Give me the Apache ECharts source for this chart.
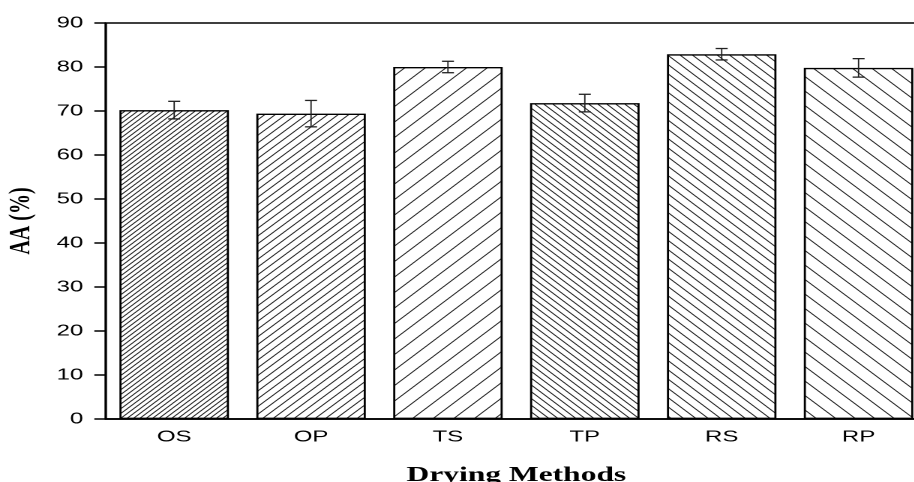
<!DOCTYPE html>
<html>
<head>
<meta charset="utf-8">
<script src="https://cdn.jsdelivr.net/npm/echarts@6/dist/echarts.min.js"></script>
<style>
  html, body { margin: 0; padding: 0; background: #fff; overflow: hidden; width: 914px; height: 482px; }
  /* the chart is laid out narrow and stretched horizontally */
  #chart { width: 618px; height: 482px; transform: scaleX(1.5); transform-origin: 0 0; }
</style>
</head>
<body>
<div id="chart"></div>
<script>
// Drying methods and their AA (%) means with standard deviations
const methods = ['OS', 'OP', 'TS', 'TP', 'RS', 'RP'];
const aaValues = [70.2, 69.4, 80.0, 71.8, 82.9, 79.8];
const aaErrors = [2.0, 3.0, 1.3, 2.0, 1.3, 2.1];
const yTicks = [0, 10, 20, 30, 40, 50, 60, 70, 80, 90];

// Hatch fill for each bar: direction (+1 = "/", -1 = "\") and vertical line spacing (px)
const hatchDir = [1, 1, 1, -1, -1, -1];
const hatchGap = [4.75, 7.75, 15.5, 6.75, 9.25, 14.5];

const STRETCH = 1.5;   // horizontal stretch of the container
const RES = 4;         // tile oversampling

function hatchPattern(dir, gap) {
  const slope = 0.75;                       // visible slope after stretching
  const H = gap;                            // tile height in layout px
  const W = Math.round(gap / (slope * STRETCH) * RES) / RES;
  const c = document.createElement('canvas');
  c.width = Math.round(W * RES); c.height = Math.round(H * RES);
  const g = c.getContext('2d');
  const w = c.width, h = c.height;
  g.fillStyle = '#ffffff';
  g.fillRect(0, 0, w, h);
  g.strokeStyle = '#1e1e1e';
  g.lineWidth = 0.8 * RES;
  for (let k = -1; k <= 1; k++) {
    g.beginPath();
    if (dir > 0) {
      g.moveTo(k * w - w, 2 * h);
      g.lineTo(k * w + 2 * w, -h);
    } else {
      g.moveTo(k * w - w, -h);
      g.lineTo(k * w + 2 * w, 2 * h);
    }
    g.stroke();
  }
  return { image: c, repeat: 'repeat', scaleX: 1 / RES, scaleY: 1 / RES };
}

const barData = aaValues.map((v, i) => ({
  value: v,
  itemStyle: {
    color: hatchPattern(hatchDir[i], hatchGap[i]),
    borderColor: '#000',
    borderWidth: 1.4
  }
}));

const errData = aaValues.map((v, i) => [i, v - aaErrors[i], v + aaErrors[i]]);

const chart = echarts.init(document.getElementById('chart'), null, {
  renderer: 'canvas', devicePixelRatio: 2, width: 618, height: 482
});

chart.setOption({
  animation: false,
  backgroundColor: '#fff',
  grid: {
    left: 70.5, right: 0, top: 23, bottom: 63,
    outerBoundsMode: 'none',
    show: true, borderColor: '#000', borderWidth: 1.6,
    backgroundColor: 'transparent'
  },
  xAxis: {
    type: 'category',
    data: methods,
    name: 'Drying Methods',
    nameLocation: 'middle',
    nameGap: 46,
    nameTextStyle: { fontFamily: 'Liberation Serif', fontWeight: 'bold', fontSize: 21, color: '#000' },
    axisLine: { lineStyle: { color: '#000', width: 1.7 } },
    axisTick: { alignWithLabel: true, length: 8, lineStyle: { color: '#000', width: 1 } },
    axisLabel: { margin: 10, fontFamily: 'Liberation Sans', fontSize: 16, color: '#000' }
  },
  yAxis: {
    type: 'value',
    min: yTicks[0],
    max: yTicks[yTicks.length - 1],
    interval: 10,
    name: 'AA (%)',
    nameLocation: 'middle',
    nameRotate: 90,
    nameGap: 46,
    nameTextStyle: { fontFamily: 'Liberation Serif', fontWeight: 'bold', fontSize: 20, color: '#000' },
    axisLine: { show: true, lineStyle: { color: '#000', width: 1.2 } },
    axisTick: { show: true, length: 7.6, lineStyle: { color: '#000', width: 1.5 } },
    axisLabel: { margin: 15, fontFamily: 'Liberation Sans', fontSize: 16, color: '#000' },
    splitLine: { show: false }
  },
  series: [
    {
      type: 'bar',
      data: barData,
      barCategoryGap: '20%'
    },
    {
      type: 'custom',
      data: errData,
      z: 10,
      renderItem: function (params, api) {
        const x = api.value(0);
        const lo = api.coord([x, api.value(1)]);
        const hi = api.coord([x, api.value(2)]);
        const cap = 4;
        const vStyle = { stroke: '#222', lineWidth: 0.9 };
        const hStyle = { stroke: '#222', lineWidth: 1.3 };
        return {
          type: 'group',
          children: [
            { type: 'line', shape: { x1: hi[0], y1: hi[1], x2: lo[0], y2: lo[1] }, style: vStyle },
            { type: 'line', shape: { x1: hi[0] - cap, y1: hi[1], x2: hi[0] + cap, y2: hi[1] }, style: hStyle },
            { type: 'line', shape: { x1: lo[0] - cap, y1: lo[1], x2: lo[0] + cap, y2: lo[1] }, style: hStyle }
          ]
        };
      }
    }
  ]
});
</script>
</body>
</html>
